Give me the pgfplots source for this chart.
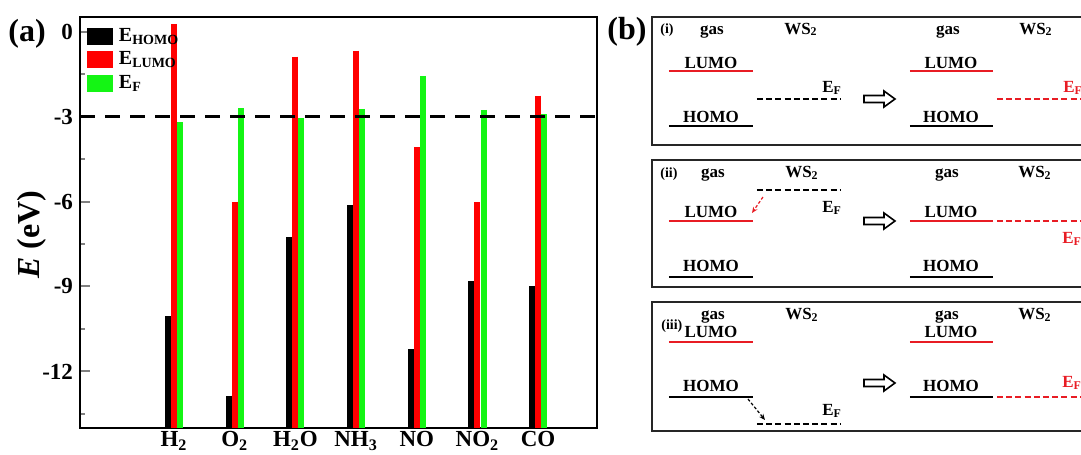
\documentclass[border=0pt]{standalone}
\usepackage{fontspec}
\setmainfont{Liberation Serif}
\usepackage{pgfplots}
\pgfplotsset{compat=1.18}
\usepackage{pgfplotstable}
\usetikzlibrary{arrows.meta}
\definecolor{barred}{RGB}{255,0,0}
\definecolor{bargreen}{RGB}{20,245,20}
\definecolor{linered}{RGB}{232,28,36}
\pgfplotstableread{
x homo lumo ef
1 -10.05 0.28 -3.20
2 -12.86 -6.00 -2.70
3 -7.25 -0.88 -3.06
4 -6.12 -0.67 -2.73
5 -11.21 -4.09 -1.56
6 -8.80 -6.03 -2.76
7 -8.98 -2.26 -2.92
}\data
\newcommand\bfont{\fontsize{8.5bp}{10bp}\selectfont\bfseries}
\newcommand\hollowarrow[1]{\draw[line width=0.8bp, fill=white] (864,#1) ++(0,-3.5) -- ++(20,0) -- ++(0,-4.5) -- ++(11,8) -- ++(-11,8) -- ++(0,-4.5) -- ++(-20,0) -- cycle;}
\begin{document}
\begin{tikzpicture}
\clip (0,0) rectangle (540.5bp,-227.5bp);
\begin{axis}[
  at={(40bp,-8.5bp)}, anchor=north west,
  scale only axis, width=258.5bp, height=205.5bp,
  xmin=-0.55, xmax=7.97, ymin=-14, ymax=0.52,
  axis line style={line width=1.2bp},
  ytick={-12,-9,-6,-3,0},
  minor ytick={-13.5,-10.5,-7.5,-4.5,-1.5},
  ytick pos=left,
  xtick={1,2,3,4,5,6,7},
  xticklabels={H\textsubscript{2}, O\textsubscript{2}, H\textsubscript{2}O, NH\textsubscript{3}, NO, NO\textsubscript{2}, CO},
  xtick pos=bottom,
  major tick length=5bp, minor tick length=2.5bp,
  xtick style={draw=none},
  ytick style={line width=1bp},
  minor tick style={line width=1bp},
  tick align=inside,
  tick label style={font=\fontsize{11.5bp}{13bp}\selectfont\bfseries},
  xticklabel style={yshift=1.8bp},
  /pgf/number format/assume math mode=true,
  ylabel={\textit{E} (eV)},
  ylabel style={font=\fontsize{16bp}{19bp}\selectfont\bfseries, at={(axis description cs:-0.093,0.47)}, anchor=center},
  legend style={at={(0.012,0.978)}, anchor=north west, draw=none, fill=none,
    font=\fontsize{10bp}{11bp}\selectfont\bfseries, row sep=1.6bp, inner sep=0pt, nodes={inner sep=1bp}},
  legend cell align=left,
]
\addlegendimage{legend image code/.code={\fill[black] (0bp,-4bp) rectangle (12.5bp,4bp); \path[draw=none, fill=none] (0bp,-0.1bp) rectangle (15bp,0.1bp);}}
\addlegendentry{E\textsubscript{HOMO}}
\addlegendimage{legend image code/.code={\fill[barred] (0bp,-4bp) rectangle (12.5bp,4bp); \path[draw=none, fill=none] (0bp,-0.1bp) rectangle (15bp,0.1bp);}}
\addlegendentry{E\textsubscript{LUMO}}
\addlegendimage{legend image code/.code={\fill[bargreen] (0bp,-4bp) rectangle (12.5bp,4bp); \path[draw=none, fill=none] (0bp,-0.1bp) rectangle (15bp,0.1bp);}}
\addlegendentry{E\textsubscript{F}}
\addplot[forget plot, draw=none, mark=none,
  error bars/.cd, y dir=minus, y explicit, error mark=none,
  error bar style={line width=3bp, solid, draw=black}]
  table[x expr=\thisrow{x}-0.1, y=homo, y error minus expr=\thisrow{homo}+14] {\data};
\addplot[forget plot, draw=none, mark=none,
  error bars/.cd, y dir=minus, y explicit, error mark=none,
  error bar style={line width=3bp, solid, draw=barred}]
  table[x=x, y=lumo, y error minus expr=\thisrow{lumo}+14] {\data};
\addplot[forget plot, draw=none, mark=none,
  error bars/.cd, y dir=minus, y explicit, error mark=none,
  error bar style={line width=3bp, solid, draw=bargreen}]
  table[x expr=\thisrow{x}+0.1, y=ef, y error minus expr=\thisrow{ef}+14] {\data};
\addplot[forget plot, black, line width=1.2bp, dash pattern=on 7.5bp off 5bp] coordinates {(-0.55,-3) (7.97,-3)};
\end{axis}
\node[font=\fontsize{16bp}{19bp}\selectfont\bfseries] at (13.5bp,-17bp) {(a)};
\begin{scope}[x=0.5bp, y=-0.5bp, every node/.style={font=\bfont, inner sep=0pt}]
\node[font=\fontsize{16bp}{19bp}\selectfont\bfseries] at (627,32) {(b)};
% boxes
\draw[line width=1bp, black!85] (652,17) rectangle (1110,145);
\draw[line width=1bp, black!85] (652,160) rectangle (1110,287);
\draw[line width=1bp, black!85] (652,302) rectangle (1110,431);
% ---- (i)
\node[anchor=base west, font=\fontsize{7bp}{8bp}\selectfont\bfseries] at (660,33) {(i)};
\node[anchor=base] at (712,34) {gas};
\node[anchor=base] at (801,34) {WS\textsubscript{2}};
\node[anchor=base] at (948,34) {gas};
\node[anchor=base] at (1036,34) {WS\textsubscript{2}};
\draw[linered, line width=1.2bp] (669,71) -- (753,71);
\node[anchor=base] at (711,68) {LUMO};
\draw[black, line width=1.2bp] (669,126) -- (753,126);
\node[anchor=base] at (711,123) {HOMO};
\draw[black, line width=1.2bp, dash pattern=on 3bp off 1.6bp] (757,99) -- (840,99);
\node[anchor=base west] at (822,93) {E\textsubscript{F}};
\hollowarrow{99}
\draw[linered, line width=1.2bp] (910,71) -- (993,71);
\node[anchor=base] at (951,68) {LUMO};
\draw[black, line width=1.2bp] (910,126) -- (993,126);
\node[anchor=base] at (951,123) {HOMO};
\draw[linered, line width=1.2bp, dash pattern=on 3bp off 1.6bp] (997,99) -- (1100,99);
\node[anchor=base west, text=linered] at (1063,93) {E\textsubscript{F}};
% ---- (ii)
\node[anchor=base west, font=\fontsize{7bp}{8bp}\selectfont\bfseries] at (660,178) {(ii)};
\node[anchor=base] at (713,178) {gas};
\node[anchor=base] at (802,178) {WS\textsubscript{2}};
\node[anchor=base] at (947,178) {gas};
\node[anchor=base] at (1035,178) {WS\textsubscript{2}};
\draw[black, line width=1.2bp, dash pattern=on 3bp off 1.6bp] (757,190) -- (840,190);
\node[anchor=base west] at (822,213) {E\textsubscript{F}};
\draw[linered, line width=0.6bp, dash pattern=on 1.5bp off 1bp, -{Stealth[length=3bp,width=2.5bp]}] (763,197) -- (752,213);
\draw[linered, line width=1.2bp] (669,221) -- (753,221);
\node[anchor=base] at (711,218) {LUMO};
\draw[black, line width=1.2bp] (669,277) -- (753,277);
\node[anchor=base] at (711,272) {HOMO};
\hollowarrow{221}
\draw[linered, line width=1.2bp] (910,221) -- (993,221);
\node[anchor=base] at (951,218) {LUMO};
\draw[black, line width=1.2bp] (910,277) -- (993,277);
\node[anchor=base] at (951,272) {HOMO};
\draw[linered, line width=1.2bp, dash pattern=on 3bp off 1.6bp] (997,221) -- (1100,221);
\node[anchor=base west, text=linered] at (1062,244) {E\textsubscript{F}};
% ---- (iii)
\node[anchor=base west, font=\fontsize{7bp}{8bp}\selectfont\bfseries] at (661,330) {(iii)};
\node[anchor=base] at (713,320) {gas};
\node[anchor=base] at (802,320) {WS\textsubscript{2}};
\node[anchor=base] at (947,320) {gas};
\node[anchor=base] at (1035,320) {WS\textsubscript{2}};
\draw[linered, line width=1.2bp] (669,342) -- (753,342);
\node[anchor=base] at (711,338) {LUMO};
\draw[black, line width=1.2bp] (669,397) -- (753,397);
\node[anchor=base] at (711,392) {HOMO};
\draw[black, line width=1.2bp, dash pattern=on 3bp off 1.6bp] (757,424) -- (840,424);
\node[anchor=base west] at (822,416) {E\textsubscript{F}};
\draw[black, line width=0.6bp, dash pattern=on 1.5bp off 1bp, -{Stealth[length=3bp,width=2.5bp]}] (748,399) -- (765,420);
\hollowarrow{383}
\draw[linered, line width=1.2bp] (910,342) -- (993,342);
\node[anchor=base] at (951,338) {LUMO};
\draw[black, line width=1.2bp] (910,397) -- (993,397);
\node[anchor=base] at (951,392) {HOMO};
\draw[linered, line width=1.2bp, dash pattern=on 3bp off 1.6bp] (997,397) -- (1100,397);
\node[anchor=base west, text=linered] at (1062,388) {E\textsubscript{F}};
\end{scope}
\end{tikzpicture}
\end{document}
